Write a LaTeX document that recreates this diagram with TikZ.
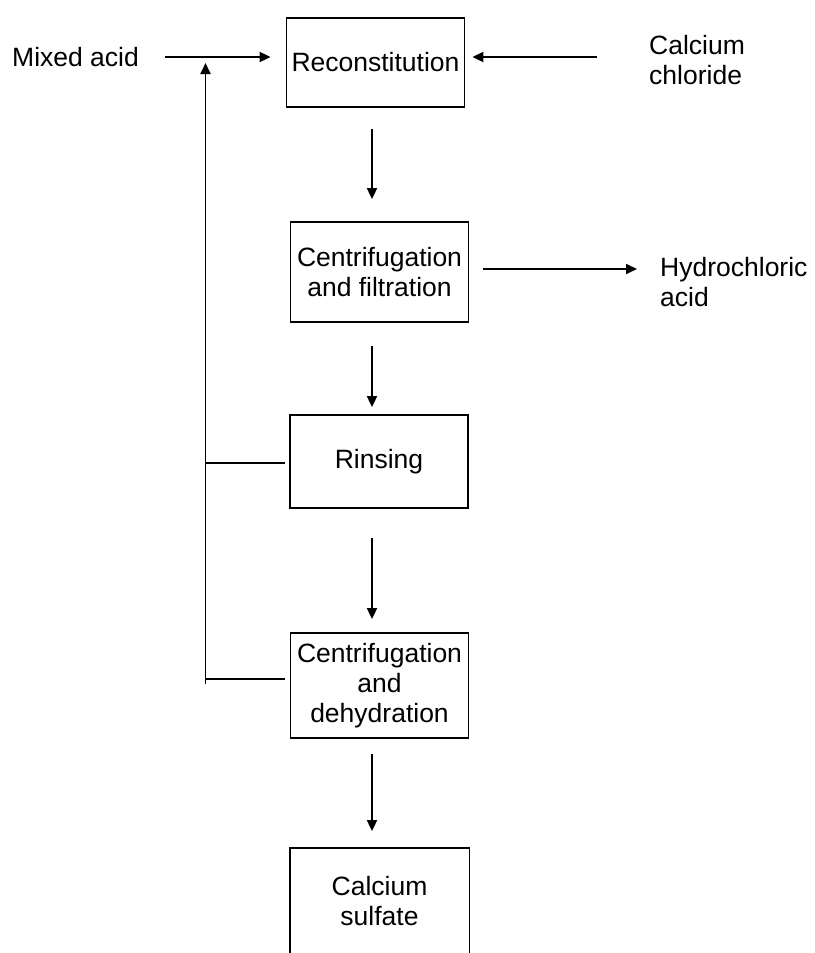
\documentclass[tikz,border=0pt]{standalone}
\usepackage{fontspec}
\setmainfont{Liberation Sans}
\usetikzlibrary{arrows.meta}
\begin{document}
\begin{tikzpicture}[x=1pt,y=-1pt,
  every node/.style={font=\fontsize{26.5}{30}\selectfont, inner sep=0pt},
  stage/.style={draw, line width=1.8pt, align=center, minimum width=178pt},
  label/.style={align=left, anchor=west},
  flow/.style={line width=1.8pt, -{Triangle[length=11pt,width=10pt]}},
  plain/.style={line width=1.8pt}]
\useasboundingbox (0,0) rectangle (814,953);

% process stages
\node[stage, minimum height=89pt]  (rec) at (375.5,62.5) {Reconstitution};
\node[stage, minimum height=100pt] (cf)  at (379.5,272)  {Centrifugation\\and filtration};
\node[stage, minimum height=93pt]  (rin) at (379,461.5)  {Rinsing};
\node[stage, minimum height=105pt] (cd)  at (379.5,685.5) {Centrifugation\\and\\dehydration};
\node[stage, draw=none, minimum height=104pt] (cs) at (379.5,901) {Calcium\\sulfate};
\draw[plain] (cs.south west) -- (cs.north west) -- (cs.north east) -- (cs.south east);

% inputs and outputs
\node[label] (ma)  at (12,57)   {Mixed acid};
\node[label] (cc)  at (649,60)  {Calcium\\chloride};
\node[label] (hcl) at (660,282.5) {Hydrochloric\\acid};

\draw[flow, shorten <=26pt, shorten >=15pt] (ma.east) -- (ma.east -| rec.west);
\draw[flow, shorten <=52pt, shorten >=7pt] (cc.west |- ma.east) -- (rec.east |- ma.east);
\draw[flow, shorten <=14pt, shorten >=23pt] ([yshift=3pt]cf.east) -- ([yshift=3pt]cf.east -| hcl.west);

% main line
\draw[flow, shorten <=21pt, shorten >=22pt] ([xshift=-3.5pt]rec.south) -- ([xshift=-7.5pt]cf.north);
\draw[flow, shorten <=23pt, shorten >=7pt]  ([xshift=-7.5pt]cf.south) -- ([xshift=-7pt]rin.north);
\draw[flow, shorten <=29pt, shorten >=13pt] ([xshift=-7pt]rin.south) -- ([xshift=-7.5pt]cd.north);
\draw[flow, shorten <=15pt, shorten >=17pt] ([xshift=-7.5pt]cd.south) -- ([xshift=-7.5pt]cs.north);

% recycle line
\coordinate (fbbot) at (205.5,684);
\coordinate (fbtop) at (205.5,63);
\draw[flow] (fbbot) -- (fbtop);
\draw[plain, shorten <=4pt] ([yshift=-1.5pt]rin.west) -- ([yshift=-1.5pt]rin.west -| fbbot);
\draw[plain, shorten <=5pt] ([yshift=6.5pt]cd.west) -- ([yshift=6.5pt]cd.west -| fbbot);
\end{tikzpicture}
\end{document}
